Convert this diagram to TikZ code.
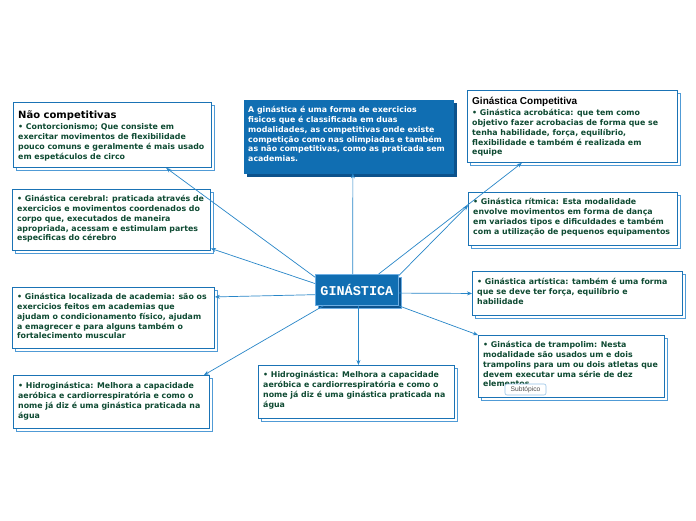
\documentclass[tikz,border=0pt]{standalone}
\usepackage{fontspec}
\newfontfamily\djfont{DejaVu Sans}
\newfontfamily\libfont{Liberation Sans}
\newfontfamily\monofnt{Liberation Mono}
\usetikzlibrary{shadows,arrows.meta,calc}
\definecolor{cardblue}{RGB}{26,115,181}
\definecolor{shadowblue}{RGB}{80,155,214}
\definecolor{linkblue}{RGB}{40,134,200}
\definecolor{txtgreen}{RGB}{14,74,50}
\definecolor{fillblue}{RGB}{16,110,178}
\definecolor{darkblue}{RGB}{12,82,140}
\definecolor{lightedge}{RGB}{110,175,228}
\definecolor{tagedge}{RGB}{150,195,230}
\newcommand{\bodyfont}{\djfont\bfseries\fontsize{7.85}{9.8}\selectfont}
\newcommand{\fl}{\rule{0pt}{7pt}}
\newcommand{\ft}{\rule{0pt}{9pt}}
\tikzset{
  card/.style={draw=cardblue, line width=0.9pt, fill=white, anchor=north west, inner sep=0pt,
    copy shadow={shadow xshift=3pt, shadow yshift=-3pt, draw=shadowblue, fill=white, line width=0.8pt}},
  bluecard/.style={draw=fillblue, fill=fillblue, anchor=north west, inner sep=0pt,
    copy shadow={shadow xshift=3pt, shadow yshift=-3pt, draw=darkblue, fill=darkblue}},
  centerbox/.style={draw=lightedge, line width=0.8pt, fill=fillblue, anchor=north west, inner sep=0pt,
    text=white, font=\monofnt\bfseries\fontsize{13.5}{15}\selectfont,
    copy shadow={shadow xshift=3pt, shadow yshift=-3pt, draw=lightedge, fill=darkblue}},
  bodytext/.style={anchor=north west, inner sep=0pt, align=left, font=\bodyfont, text=txtgreen},
  titletext/.style={anchor=north west, inner sep=0pt, align=left, text=black},
  conn/.style={draw=linkblue, line width=0.7pt, -{Stealth[length=5pt,width=4pt]}},
  tag/.style={draw=tagedge, line width=0.6pt, fill=white, rounded corners=2pt, inner sep=0pt,
    minimum width=41pt, minimum height=11pt, font=\libfont\fontsize{6.7}{8}\selectfont, text=black!70}
}
\begin{document}
\begin{tikzpicture}[x=1pt,y=-1pt]
\fill[white] (0,0) rectangle (696,520);
\useasboundingbox (0,0) rectangle (696,520);

% boxes
\node[card, minimum width=198pt, minimum height=65pt] (ncomp) at (13,102) {};
\node[bluecard, minimum width=209pt, minimum height=73pt] (intro) at (244,100) {};
\node[card, minimum width=210pt, minimum height=72pt] (comp) at (467,90) {};
\node[card, minimum width=198pt, minimum height=61pt] (cer) at (12,189) {};
\node[card, minimum width=209pt, minimum height=53pt] (rit) at (468,192) {};
\node[centerbox, minimum width=83pt, minimum height=31pt] (ctr) at (315,274) {GINÁSTICA};
\node[card, minimum width=202pt, minimum height=61pt] (loc) at (12,287) {};
\node[card, minimum width=210pt, minimum height=44pt] (art) at (472,271) {};
\node[card, minimum width=186pt, minimum height=62pt] (tramp) at (478,335) {};
\node[card, minimum width=196pt, minimum height=53pt] (hl) at (13,375) {};
\node[card, minimum width=196pt, minimum height=53pt] (hc) at (258,365) {};

% texts
\node[titletext, font=\djfont\bfseries\fontsize{10}{12}\selectfont] (ncompt) at (18,109.5) {\ft Não competitivas};
\node[bodytext] (ncompb) at (18,122.5) {\fl• Contorcionismo; Que consiste em\\
exercitar movimentos de flexibilidade\\
pouco comuns e geralmente é mais usado\\
em espetáculos de circo};

\node[bodytext, text=white] (introb) at (248,105.5) {\fl A ginástica é uma forma de exercicios\\
fisicos que é classificada em duas\\
modalidades, as competitivas onde existe\\
competição como nas olimpiadas e também\\
as não competitivas, como as praticada sem\\
academias.};

\node[titletext, font=\libfont\bfseries\fontsize{10}{12}\selectfont] (compt) at (472,95.5) {\ft Ginástica Competitiva};
\node[bodytext] (compb) at (472,108.5) {\fl• Ginástica acrobática: que tem como\\
objetivo fazer acrobacias de forma que se\\
tenha habilidade, força, equilíbrio,\\
flexibilidade e também é realizada em\\
equipe};

\node[bodytext] (cerb) at (17,194.5) {\fl• Ginástica cerebral: praticada através de\\
exercicios e movimentos coordenados do\\
corpo que, executados de maneira\\
apropriada, acessam e estimulam partes\\
especificas do cérebro};

\node[bodytext] (ritb) at (473,197.5) {\fl• Ginástica rítmica: Esta modalidade\\
envolve movimentos em forma de dança\\
em variados tipos e dificuldades e também\\
com a utilização de pequenos equipamentos};

\node[bodytext] (locb) at (17,292.5) {\fl• Ginástica localizada de academia: são os\\
exercicios feitos em academias que\\
ajudam o condicionamento físico, ajudam\\
a emagrecer e para alguns também o\\
fortalecimento muscular};

\node[bodytext] (artb) at (477,277.5) {\fl• Ginástica artística: também é uma forma\\
que se deve ter força, equilíbrio e\\
habilidade};

\node[bodytext] (trampb) at (483,340.5) {\fl• Ginástica de trampolim: Nesta\\
modalidade são usados um e dois\\
trampolins para um ou dois atletas que\\
devem executar uma série de dez\\
elementos};

\node[bodytext] (hlb) at (18,381.5) {\fl• Hidroginástica: Melhora a capacidade\\
aeróbica e cardiorrespiratória e como o\\
nome já diz é uma ginástica praticada na\\
água};

\node[bodytext] (hcb) at (263,370.5) {\fl• Hidroginástica: Melhora a capacidade\\
aeróbica e cardiorrespiratória e como o\\
nome já diz é uma ginástica praticada na\\
água};

\node[tag] (sub) at (525.5,389.5) {Subtópico};

% connectors
\draw[conn] ($(ctr.north west)!0.1!(ctr.south west)$) -- ($(ncomp.south west)!0.77!(ncomp.south east)$);
\draw[conn] ($(ctr.north west)!0.3!(ctr.south west)$) -- ($(cer.north east)!0.96!(cer.south east)$);
\draw[conn] ($(ctr.north west)!0.65!(ctr.south west)$) -- ($(loc.north east)!0.16!(loc.south east)$);
\draw[conn] ($(ctr.south west)!0.1!(ctr.south east)$) -- ($(hl.north west)!0.97!(hl.north east)$);
\draw[conn] ($(ctr.south west)!0.52!(ctr.south east)$) -- ($(hc.north west)!0.51!(hc.north east)$);
\draw[conn] ($(ctr.north west)!0.45!(ctr.north east)$) -- ($(intro.south west)!0.52!(intro.south east)$);
\draw[conn] ($(ctr.north west)!0.76!(ctr.north east)$) -- ($(comp.south west)!0.26!(comp.south east)$);
\draw[conn] ($(ctr.north east)!0.05!(ctr.south east)$) -- ($(rit.north west)!0.25!(rit.south west)$);
\draw[conn] ($(ctr.north east)!0.6!(ctr.south east)$) -- ($(art.north west)!0.5!(art.south west)$);
\draw[conn] (ctr.south east) -- (tramp.north west);
\end{tikzpicture}
\end{document}
